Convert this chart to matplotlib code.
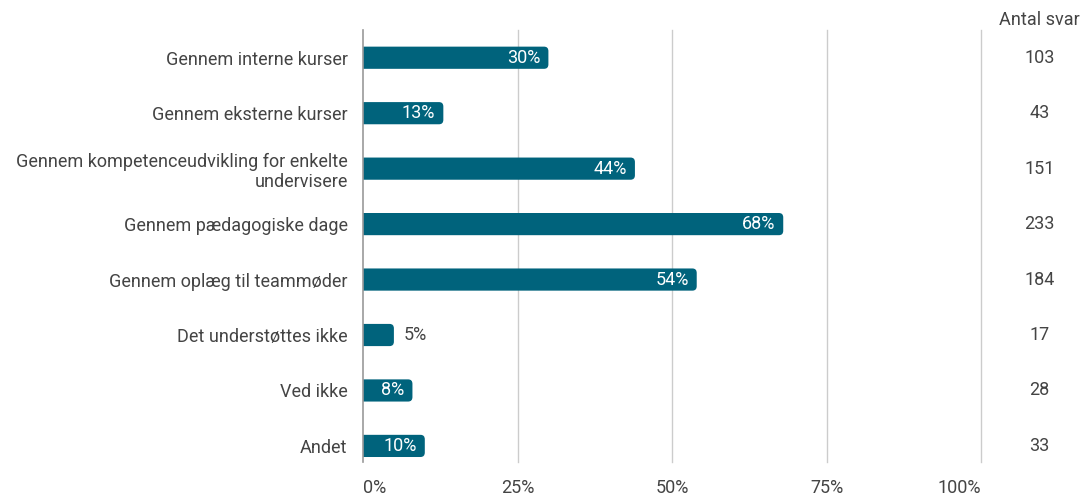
import matplotlib.pyplot as plt
from matplotlib.patches import FancyBboxPatch

plt.rcParams['font.family'] = ['Roboto', 'DejaVu Sans']

categories = ['Gennem interne kurser', 'Gennem eksterne kurser',
              'Gennem kompetenceudvikling for enkelte\nundervisere',
              'Gennem pædagogiske dage', 'Gennem oplæg til teammøder',
              'Det understøttes ikke', 'Ved ikke', 'Andet']
percent = [30, 13, 44, 68, 54, 5, 8, 10]
counts = [103, 43, 151, 233, 184, 17, 28, 33]
ticks = [0, 25, 50, 75, 100]
tick_labels = ['0%', '25%', '50%', '75%', '100%']

bar_color = '#00637c'
text_color = '#444444'

fig = plt.figure(figsize=(10.85, 5.0), dpi=100)
ax = fig.add_axes([363 / 1085, 38 / 500, 618 / 1085, 432 / 500])

bar_h = 0.4
for i, v in enumerate(percent):
    # start left of zero so the axes clip gives a square left end
    ax.add_patch(FancyBboxPatch((-3, i - bar_h / 2), v + 3, bar_h,
                                boxstyle='round,pad=0,rounding_size=0.7',
                                mutation_aspect=0.115, fc=bar_color, ec='none', zorder=3))
    if v >= 7:
        ax.text(v - 1.3, i, f'{v}%', ha='right', va='center', color='white',
                fontsize=13, zorder=4)
    else:
        ax.text(v + 1.6, i, f'{v}%', ha='left', va='center', color=text_color,
                fontsize=13, zorder=4)
    ax.text(1.095, i, str(counts[i]), transform=ax.get_yaxis_transform(),
            ha='center', va='center', color=text_color, fontsize=13)

ax.text(1.095, -0.68, 'Antal svar', transform=ax.get_yaxis_transform(),
        ha='center', va='center', color=text_color, fontsize=13)

ax.set_xlim(0, 100)
ax.set_ylim(7.29, -0.5)
ax.set_xticks(ticks)
ax.set_xticklabels(tick_labels)
xt = ax.get_xticklabels()
xt[0].set_ha('left')
xt[-1].set_ha('right')
ax.set_yticks(range(len(categories)))
ax.set_yticklabels(categories, ha='right', multialignment='right')
ax.tick_params(axis='both', length=0, labelsize=13, colors=text_color)
ax.tick_params(axis='x', pad=12)
ax.tick_params(axis='y', pad=11)

for t in ticks[1:]:
    ax.axvline(t, color='#cccccc', lw=1, zorder=1, clip_on=False)
ax.axvline(0, color='#999999', lw=1.2, zorder=5, clip_on=False)
for s in ax.spines.values():
    s.set_visible(False)

fig.savefig('out.png', dpi=100)
